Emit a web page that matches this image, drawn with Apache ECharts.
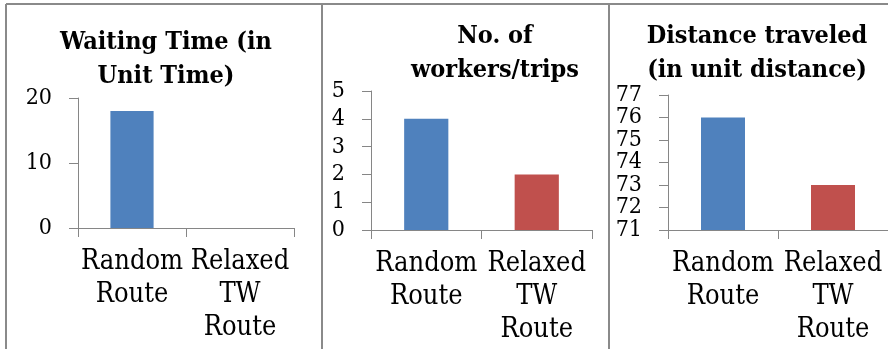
<!DOCTYPE html>
<html>
<head>
<meta charset="utf-8">
<script src="https://cdn.jsdelivr.net/npm/echarts@6/dist/echarts.min.js"></script>
<style>
html,body{margin:0;padding:0;background:#fff;}
#chart{width:888px;height:349px;}
</style>
</head>
<body>
<div id="chart"></div>
<script>
// ---- data ----
var categories = ['Random\nRoute', 'Relaxed\nTW\nRoute'];
var titles = ['Waiting Time (in\nUnit Time)', 'No. of\nworkers/trips', 'Distance traveled\n(in unit distance)'];
var waitingTime = [18, 0];
var workersTrips = [4, 2];
var distanceTraveled = [76, 73];
var barColors = ['#4F81BD', '#C0504D'];
var yRanges = [
  {min: 0, max: 20, interval: 10},
  {min: 0, max: 5, interval: 1},
  {min: 71, max: 77, interval: 1}
];
var seriesValues = [waitingTime, workersTrips, distanceTraveled];

// ---- layout ----
var grids = [
  {left: 78, top: 98, width: 216, height: 130},
  {left: 371, top: 91, width: 221, height: 139},
  {left: 668, top: 95, width: 228, height: 135}
];
var titlePos = [
  {x: 166, top: 25},
  {x: 495, top: 19},
  {x: 757, top: 19}
];

var axisColor = '#868686';
var serif = 'DejaVu Serif Condensed, DejaVu Serif, serif';

var yAxes = grids.map(function (g, i) {
  return {
    type: 'value',
    gridIndex: i,
    min: yRanges[i].min,
    max: yRanges[i].max,
    interval: yRanges[i].interval,
    splitLine: {show: false},
    axisLine: {show: true, lineStyle: {color: axisColor, width: 1}},
    axisTick: {show: true, length: 9, lineStyle: {color: axisColor}},
    axisLabel: {fontFamily: serif, fontSize: 23, color: '#000', margin: 26, hideOverlap: false,
      showMinLabel: i === 2 ? false : true, showMaxLabel: i === 2 ? false : true}
  };
});
// extra axis on panel 3 carrying only the end labels (71 and 77)
yAxes.push({
  type: 'value',
  gridIndex: 2,
  position: 'left',
  min: yRanges[2].min,
  max: yRanges[2].max,
  interval: yRanges[2].max - yRanges[2].min,
  splitLine: {show: false},
  axisLine: {show: false},
  axisTick: {show: true, length: 9, lineStyle: {color: axisColor}},
  axisLabel: {fontFamily: serif, fontSize: 23, color: '#000', margin: 26}
});

var option = {
  backgroundColor: '#fff',
  animation: false,
  title: titles.map(function (t, i) {
    return {
      text: t,
      left: titlePos[i].x,
      top: titlePos[i].top,
      textAlign: 'center',
      padding: 0,
      textStyle: {fontFamily: serif, fontWeight: 'bold', fontSize: 25, lineHeight: 34, color: '#000'}
    };
  }),
  grid: grids,
  xAxis: grids.map(function (g, i) {
    return {
      type: 'category',
      gridIndex: i,
      data: categories,
      axisLine: {lineStyle: {color: axisColor, width: 1}},
      axisTick: {show: true, length: 9, alignWithLabel: false, lineStyle: {color: axisColor}},
      axisLabel: {fontFamily: serif, fontSize: 27, lineHeight: 33, color: '#000', margin: 17, interval: 0}
    };
  }),
  yAxis: yAxes,
  series: seriesValues.map(function (vals, i) {
    return {
      type: 'bar',
      xAxisIndex: i,
      yAxisIndex: i,
      barWidth: '40%',
      data: vals.map(function (v, j) {
        return {value: v, itemStyle: {color: barColors[j]}};
      })
    };
  }),
  graphic: [
    {type: 'line', shape: {x1: 6, y1: 4, x2: 888, y2: 4}, style: {stroke: '#8a8a8a', lineWidth: 2}},
    {type: 'line', shape: {x1: 6, y1: 4, x2: 6, y2: 349}, style: {stroke: '#8a8a8a', lineWidth: 2}},
    {type: 'line', shape: {x1: 322, y1: 4, x2: 322, y2: 349}, style: {stroke: '#8a8a8a', lineWidth: 2}},
    {type: 'line', shape: {x1: 609, y1: 4, x2: 609, y2: 349}, style: {stroke: '#8a8a8a', lineWidth: 2}}
  ]
};

var chart = echarts.init(document.getElementById('chart'), null, {renderer: 'canvas'});
chart.setOption(option);
</script>
</body>
</html>
